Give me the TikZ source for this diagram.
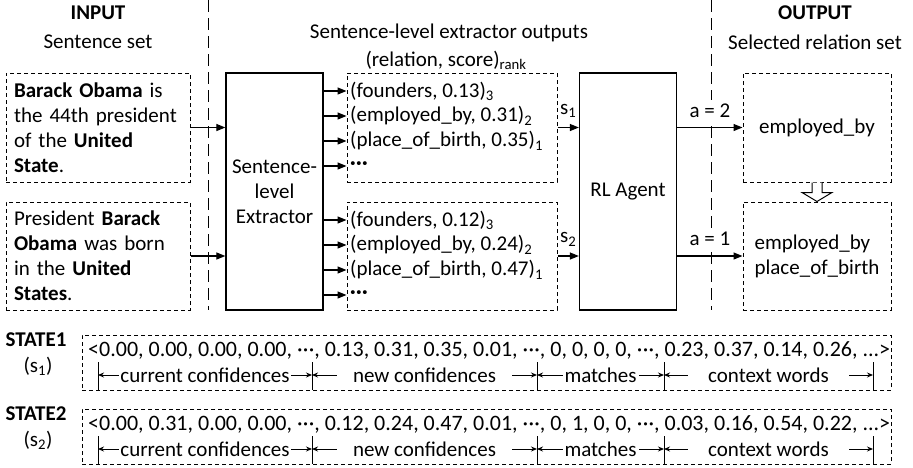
\documentclass[tikz,border=0pt]{standalone}
\usepackage{fontspec}
\setmainfont{Carlito}
\usetikzlibrary{arrows.meta,positioning}

\newcommand\mdots{\textperiodcentered\kern0.3pt\textperiodcentered\kern0.3pt\textperiodcentered}

\tikzset{
  dbox/.style={draw, dash pattern=on 4pt off 3pt, line width=1pt},
  sbox/.style={draw, line width=1.3pt, minimum width=97pt, minimum height=237pt, align=center},
  arr/.style={-{Triangle[length=9pt,width=7pt]}, line width=1.2pt},
  vsep/.style={dash pattern=on 12pt off 6pt, line width=1pt},
  dim/.style={{Stealth[length=6pt,width=5pt]}-{Stealth[length=6pt,width=5pt]}, line width=0.9pt},
  hd/.style={font=\fontsize{21}{25}\selectfont\bfseries},
  lbl/.style={inner sep=1pt, anchor=west}
}

\begin{document}
\begin{tikzpicture}[x=1pt, y=-1pt, font=\fontsize{21}{25}\selectfont]
  \useasboundingbox (0,0) rectangle (913,467);%

  % headers
  \node[hd] (inhd) at (98,13) {INPUT};
  \node (insub) at (98,42) {Sentence set};
  \node (midhd) at (449,33) {Sentence-level extractor outputs};
  \node (midsub) at (446,60) {(relation, score)\textsubscript{rank}};
  \node[hd] (outhd) at (815,13) {OUTPUT};
  \node (outsub) at (815,42) {Selected relation set};
  \draw[vsep] (208,0) -- (208,310);
  \draw[vsep] (711,0) -- (711,310);

  % sentences
  \node[dbox, text width=168pt, inner xsep=8pt, minimum height=109pt, align=left] (sen1) at (98,127.5)
    {\textbf{Barack Obama} is\\ the 44th president\\ of the \textbf{United}\\ \textbf{State}.};
  \node[dbox, text width=168pt, inner xsep=8pt, minimum height=108pt, align=left] (sen2) at (98,256)
    {President \textbf{Barack}\\ \textbf{Obama} was born\\ in the \textbf{United}\\ \textbf{States}.};

  \node[sbox] (ext) at (274.5,191.5) {\\[-10pt]Sentence-\\level\\Extractor};
  \node[sbox] (rl) at (628,191.5) {RL Agent};
  \draw[arr] (sen1.east) -- (ext.west |- sen1.east);
  \draw[arr] (sen2.east) -- (ext.west |- sen2.east);

  % extractor outputs
  \node[dbox, minimum width=210pt, minimum height=109pt] (res1) at (452,127.5) {};
  \node[dbox, minimum width=210pt, minimum height=108pt] (res2) at (452,256) {};
  \foreach \t [count=\i] in {{(founders, 0.13)\textsubscript{3}}, {(employed\_by, 0.31)\textsubscript{2}},
      {(place\_of\_birth, 0.35)\textsubscript{1}}, {\textbf{\mdots}}} {
    \node[lbl] (ra\i) at (349,66+25*\i) {\t};
    \draw[arr] (ext.east |- ra\i) -- (res1.west |- ra\i);
  }
  \foreach \t [count=\i] in {{(founders, 0.12)\textsubscript{3}}, {(employed\_by, 0.24)\textsubscript{2}},
      {(place\_of\_birth, 0.47)\textsubscript{1}}, {\textbf{\mdots}}} {
    \node[lbl] (rb\i) at (349,195+25*\i) {\t};
    \draw[arr] (ext.east |- rb\i) -- (res2.west |- rb\i);
  }

  % selected relations
  \node[dbox, minimum width=148pt, minimum height=109pt] (sel1) at (817,127.5) {employed\_by};
  \node[dbox, minimum width=148pt, minimum height=108pt, align=left] (sel2) at (817,256)
    {employed\_by\\ place\_of\_birth};
  \draw[line width=1pt, fill=white, shift={(sel1.south)}]
    (-5,0) -- (-5,10) -- (-15,10) -- (0,19) -- (15,10) -- (5,10) -- (5,0);

  \draw[arr] (res1.east) -- node[above=6pt] {s\textsubscript{1}} (rl.west |- res1.east);
  \draw[arr] (res2.east) -- node[above=6pt] {s\textsubscript{2}} (rl.west |- res2.east);
  \draw[arr] (rl.east |- sel1.west) -- node[above=6pt, fill=white, inner xsep=1pt] {a = 2} (sel1.west);
  \draw[arr] (rl.east |- sel2.west) -- node[above=6pt, fill=white, inner xsep=1pt] {a = 1} (sel2.west);

  % state vectors
  \foreach \k/\dy/\vec in {1/0/{<0.00, 0.00, 0.00, 0.00, \mdots, 0.13, 0.31, 0.35, 0.01, \mdots, 0, 0, 0, 0, \mdots, 0.23, 0.37, 0.14, 0.26, ...>},
      2/74/{<0.00, 0.31, 0.00, 0.00, \mdots, 0.12, 0.24, 0.47, 0.01, \mdots, 0, 1, 0, 0, \mdots, 0.03, 0.16, 0.54, 0.22, ...>}} {
    \node[hd] (st\k) at (36,340+\dy) {STATE\k};
    \node (st\k s) at (38,366+\dy) {(s\textsubscript{\k})};
    \node[dbox, minimum width=809pt, minimum height=55pt] (vec\k) at (486.5,362.5+\dy) {};
    \node[anchor=west, inner sep=0pt, font=\fontsize{22}{25}\selectfont] (val\k) at (88,350+\dy) {\vec};
    \foreach \x in {98,312,537,664,873}
      \draw[line width=0.9pt] (\x,362+\dy) -- (\x,390+\dy);
    \foreach \a/\b/\t/\g in {98/312/current confidences/1pt, 312/537/new confidences/16pt,
        537/664/matches/2pt, 664/873/context words/20pt}
      \draw[dim] (\a,375+\dy) -- node[fill=white, inner xsep=\g, inner ysep=0pt] {\t} (\b,375+\dy);
  }
\end{tikzpicture}
\end{document}
